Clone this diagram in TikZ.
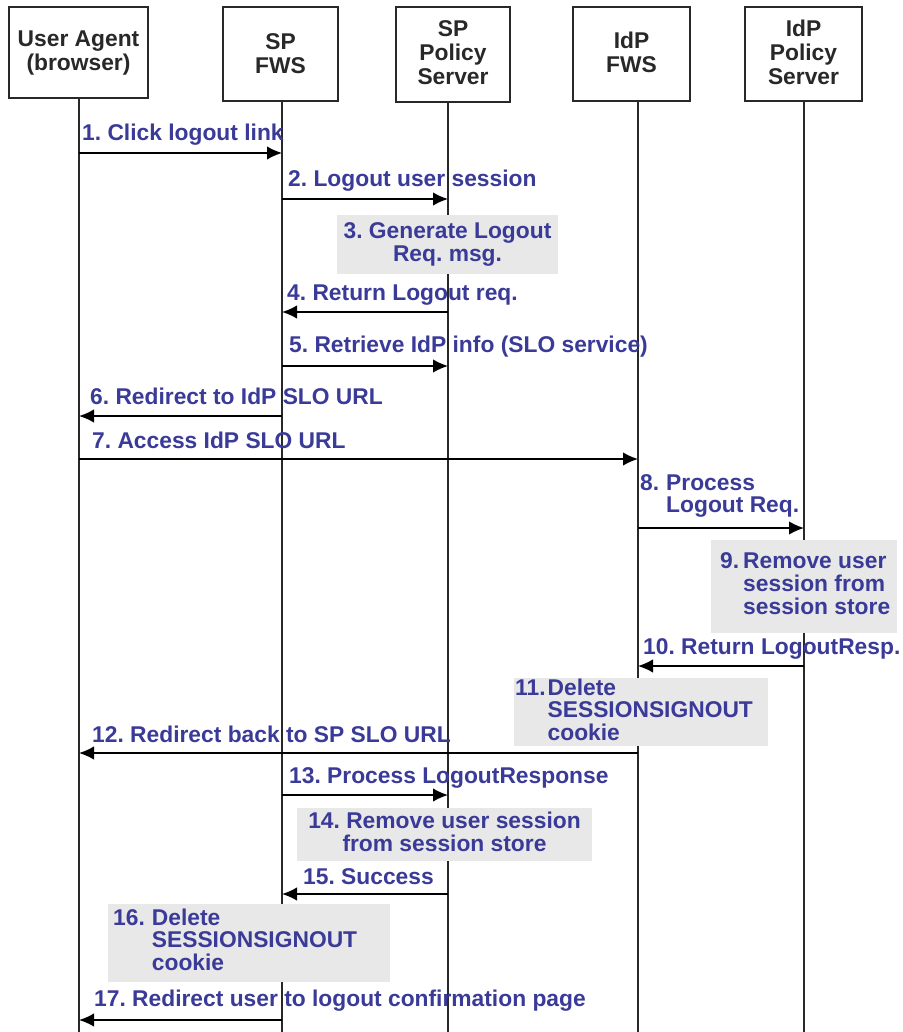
\documentclass[tikz,border=0pt]{standalone}
\usepackage{fontspec}
\setmainfont{Liberation Sans}
\usetikzlibrary{arrows.meta}
\definecolor{lblue}{RGB}{58,58,152}
\definecolor{dk}{RGB}{40,40,40}
\definecolor{gbox}{RGB}{232,232,232}
\newcommand\dfont{\fontsize{22.8}{22.4}\selectfont\bfseries\frenchspacing}
\newcommand\hfont{\fontsize{22.8}{23.5}\selectfont\bfseries\frenchspacing}
\begin{document}
\begin{tikzpicture}[x=1pt,y=-1pt,
  hdr/.style={draw=dk,line width=1.6pt,inner sep=0pt,fill=white},
  hdrtxt/.style={anchor=base,inner sep=0pt,text=dk,font=\hfont},
  life/.style={draw=dk,line width=1.6pt},
  msg/.style={draw=black,line width=1.6pt,-{Latex[length=15pt,width=13.5pt]}},
  lbl/.style={anchor=base west,inner sep=0pt,text=lblue,font=\dfont},
  note/.style={fill=gbox,inner sep=0pt},
  notetxt/.style={inner sep=0pt,text=lblue,font=\dfont}]
\useasboundingbox (0,0) rectangle (902,1032);
% header boxes
\node[hdr,minimum width=139pt,minimum height=91pt] (ua) at (78.5,52.5) {};
\node[hdr,minimum width=115pt,minimum height=94pt] (spf) at (280.5,54) {};
\node[hdr,minimum width=114pt,minimum height=95pt] (sps) at (453,54.5) {};
\node[hdr,minimum width=117pt,minimum height=94pt] (idf) at (631.5,54) {};
\node[hdr,minimum width=117pt,minimum height=94pt] (ids) at (803.5,54) {};
\node[hdrtxt] (uat) at (78.5,47) {\begin{tabular}[t]{@{}c@{}}User Agent\\(browser)\end{tabular}};
\node[hdrtxt] (spft) at (280.5,50) {\begin{tabular}[t]{@{}c@{}}SP\\FWS\end{tabular}};
\node[hdrtxt] (spst) at (453,37) {\begin{tabular}[t]{@{}c@{}}SP\\Policy\\Server\end{tabular}};
\node[hdrtxt] (idft) at (631.5,49) {\begin{tabular}[t]{@{}c@{}}IdP\\FWS\end{tabular}};
\node[hdrtxt] (idst) at (803.5,37) {\begin{tabular}[t]{@{}c@{}}IdP\\Policy\\Server\end{tabular}};
% lifeline tops
\coordinate (la) at (ua.south -| 79,0);
\coordinate (lb) at (spf.south -| 282,0);
\coordinate (lc) at (sps.south -| 448,0);
\coordinate (ld) at (idf.south -| 638,0);
\coordinate (le) at (ids.south -| 804,0);
\foreach \l in {la,lb,lc,ld,le} \draw[life] (\l) -- (\l |- 0,1032);
% grey notes
\node[note,minimum width=221pt,minimum height=59pt] (n3) at (447.5,244.5) {};
\node[note,minimum width=186pt,minimum height=93pt] (n9) at (804,586.5) {};
\node[note,minimum width=254pt,minimum height=68pt] (n11) at (641,712) {};
\node[note,minimum width=295pt,minimum height=53pt] (n14) at (444.5,834.5) {};
\node[note,minimum width=282pt,minimum height=78pt] (n16) at (249,943) {};
\node[notetxt,anchor=base] at (447.5,239) {\begin{tabular}[t]{@{}c@{}}3. Generate Logout\\Req. msg.\end{tabular}};
\node[notetxt,anchor=base west] at (720,568) {\begin{tabular}[t]{@{}l@{\hspace{4pt}}l@{}}9.&Remove user\\&session from\\&session store\end{tabular}};
\node[notetxt,anchor=base west] at (515,695) {\begin{tabular}[t]{@{}l@{\hspace{2pt}}l@{}}11.&Delete\\&SESSIONSIGNOUT\\&cookie\end{tabular}};
\node[notetxt,anchor=base] at (444.5,828) {\begin{tabular}[t]{@{}c@{}}14. Remove user session\\from session store\end{tabular}};
\node[notetxt,anchor=base west] at (113,925) {\begin{tabular}[t]{@{}l@{\hspace{7pt}}l@{}}16.&Delete\\&SESSIONSIGNOUT\\&cookie\end{tabular}};
% messages
\draw[msg] (la |- 0,153) -- (lb |- 0,153);
\draw[msg] (lb |- 0,199) -- (lc |- 0,199);
\draw[msg] (lc |- 0,312) -- (lb |- 0,312);
\draw[msg] (lb |- 0,366) -- (lc |- 0,366);
\draw[msg] (lb |- 0,416) -- (la |- 0,416);
\draw[msg] (la |- 0,459) -- (ld |- 0,459);
\draw[msg] (ld |- 0,528) -- (le |- 0,528);
\draw[msg] (le |- 0,666) -- (ld |- 0,666);
\draw[msg] (ld |- 0,753) -- (la |- 0,753);
\draw[msg] (lb |- 0,795) -- (lc |- 0,795);
\draw[msg] (lc |- 0,894) -- (lb |- 0,894);
\draw[msg] (lb |- 0,1020) -- (la |- 0,1020);
% labels
\node[lbl] (t1) at (82,141) {1. Click logout link};
\node[lbl] (t2) at (288,187) {2. Logout user session};
\node[lbl] (t4) at (287,300) {4. Return Logout req.};
\node[lbl] (t5) at (289,352) {5. Retrieve IdP info (SLO service)};
\node[lbl] (t6) at (90,404) {6. Redirect to IdP SLO URL};
\node[lbl] (t7) at (92,448) {7. Access IdP SLO URL};
\node[lbl] (t8) at (640,490) {\begin{tabular}[t]{@{}l@{\hspace{7pt}}l@{}}8.&Process\\&Logout Req.\end{tabular}};
\node[lbl] (t10) at (643,654) {10. Return LogoutResp.};
\node[lbl] (t12) at (92,742) {12. Redirect back to SP SLO URL};
\node[lbl] (t13) at (289,783) {13. Process LogoutResponse};
\node[lbl] (t15) at (303,884) {15. Success};
\node[lbl] (t17) at (94,1006) {17. Redirect user to logout confirmation page};
\end{tikzpicture}
\end{document}
